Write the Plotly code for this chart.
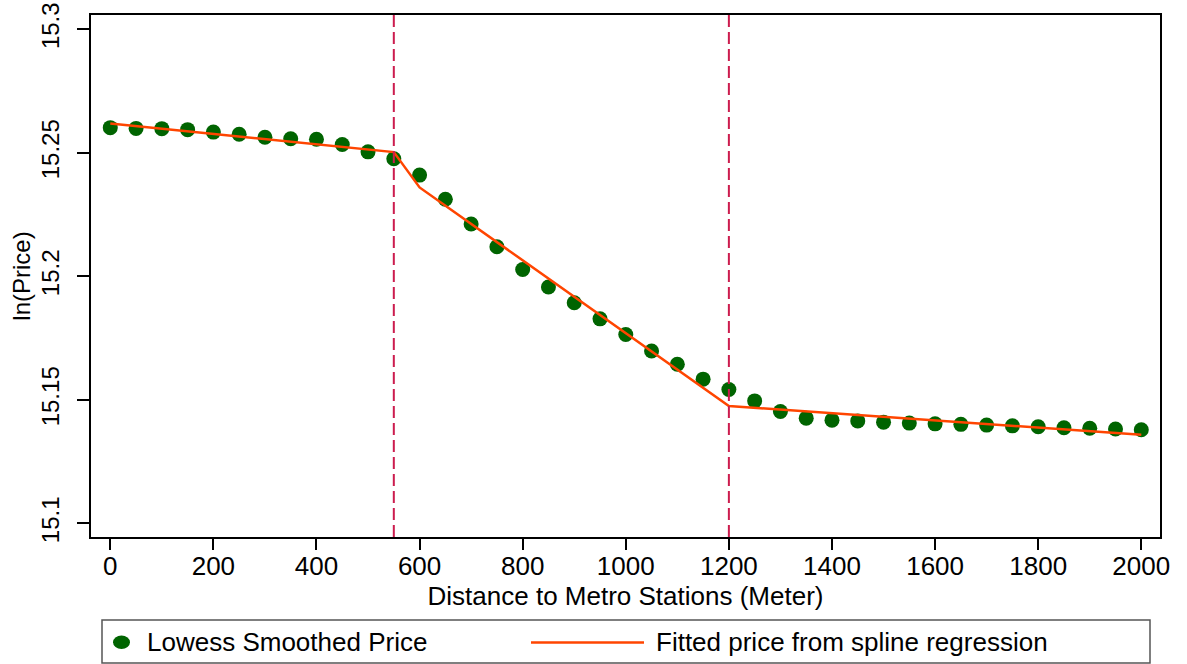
import plotly.graph_objects as go

# ---- data ----
distance = [0, 50, 100, 150, 200, 250, 300, 350, 400, 450, 500, 550, 600, 650, 700,
            750, 800, 850, 900, 950, 1000, 1050, 1100, 1150, 1200, 1250, 1300, 1350,
            1400, 1450, 1500, 1550, 1600, 1650, 1700, 1750, 1800, 1850, 1900, 1950, 2000]
lowess_price = [15.2602, 15.2599, 15.2598, 15.2594, 15.2584, 15.2575, 15.2563, 15.2557,
                15.2555, 15.2534, 15.2504, 15.2476, 15.2410, 15.2312, 15.2212, 15.2120,
                15.2028, 15.1957, 15.1893, 15.1828, 15.1765, 15.1698, 15.1644, 15.1584,
                15.1542, 15.1496, 15.1453, 15.1426, 15.1418, 15.1415, 15.1410, 15.1406,
                15.1403, 15.1401, 15.1398, 15.1395, 15.1391, 15.1387, 15.1385, 15.1382,
                15.1379]
fit_distance = [0, 550, 600, 1200, 2000]
fit_price = [15.2619, 15.2503, 15.2360, 15.1475, 15.1359]
knots = [550, 1200]

x_ticks = [0, 200, 400, 600, 800, 1000, 1200, 1400, 1600, 1800, 2000]
y_ticks = [15.1, 15.15, 15.2, 15.25, 15.3]
y_tick_labels = ["15.1", "15.15", "15.2", "15.25", "15.3"]

series_names = ["Lowess Smoothed Price", "Fitted price from spline regression"]
x_title = "Distance to Metro Stations (Meter)"
y_title = "ln(Price)"

# ---- styling ----
W, H = 1187, 664
ML, MR, MT, MB = 91, 27, 15, 127
GREEN = "#006400"
ORANGE = "#FF4500"
CRIMSON = "#CC1C4E"
FONT = "Liberation Sans, Arial, sans-serif"
TXT = 26

pw = W - ML - MR
ph = H - MT - MB


def px(xp):
    return (xp - ML) / pw


def py(yp):
    return (H - MB - yp) / ph


fig = go.Figure()
fig.add_trace(go.Scatter(
    x=distance, y=lowess_price, mode="markers", name=series_names[0],
    marker=dict(color=GREEN, size=15, line=dict(width=0)), showlegend=False))
fig.add_trace(go.Scatter(
    x=fit_distance, y=fit_price, mode="lines", name=series_names[1],
    line=dict(color=ORANGE, width=2.5), showlegend=False))

shapes = []
for k in knots:
    shapes.append(dict(type="line", xref="x", yref="paper", x0=k, x1=k, y0=0, y1=1,
                       line=dict(color=CRIMSON, width=2, dash="12px,5px"), layer="above"))

# manual legend box
shapes.append(dict(type="rect", xref="paper", yref="paper",
                   x0=px(102), x1=px(1150), y0=py(663), y1=py(620),
                   line=dict(color="#555555", width=1.5), fillcolor="white"))
shapes.append(dict(type="circle", xref="paper", yref="paper",
                   x0=px(113), x1=px(130), y0=py(649), y1=py(635.5),
                   line=dict(width=0), fillcolor=GREEN))
shapes.append(dict(type="line", xref="paper", yref="paper",
                   x0=px(531), x1=px(644), y0=py(642.5), y1=py(642.5),
                   line=dict(color=ORANGE, width=2.5)))

annotations = [
    dict(text=series_names[0], xref="paper", yref="paper", x=px(145), y=py(642),
         xanchor="left", yanchor="middle", showarrow=False,
         font=dict(family=FONT, size=TXT, color="black")),
    dict(text=series_names[1], xref="paper", yref="paper", x=px(654), y=py(642),
         xanchor="left", yanchor="middle", showarrow=False,
         font=dict(family=FONT, size=TXT, color="black")),
]

fig.update_layout(
    width=W, height=H,
    margin=dict(l=ML, r=MR, t=MT, b=MB, autoexpand=False),
    paper_bgcolor="white", plot_bgcolor="white",
    font=dict(family=FONT, color="black"),
    shapes=shapes, annotations=annotations,
    showlegend=False,
)
fig.update_xaxes(
    range=[-37.4, 2036.3], tickvals=x_ticks, ticks="outside", ticklen=11,
    tickwidth=1.5, tickcolor="black", showline=True, mirror=True, linecolor="black",
    linewidth=2, showgrid=False, zeroline=False, tickfont=dict(size=TXT),
    ticklabelstandoff=-6,
    title=dict(text=x_title, font=dict(size=TXT), standoff=0),
)
fig.update_yaxes(
    range=[15.0945, 15.3058], tickvals=y_ticks, ticktext=y_tick_labels, ticks="outside",
    ticklen=12, tickwidth=1.5, tickcolor="black", showline=True, mirror=True,
    linecolor="black", linewidth=2, showgrid=False, zeroline=False,
    tickangle=-90, tickfont=dict(size=24), ticklabelstandoff=8,
    title=dict(text=y_title, font=dict(size=24), standoff=0),
)

fig.write_html("out.html")
